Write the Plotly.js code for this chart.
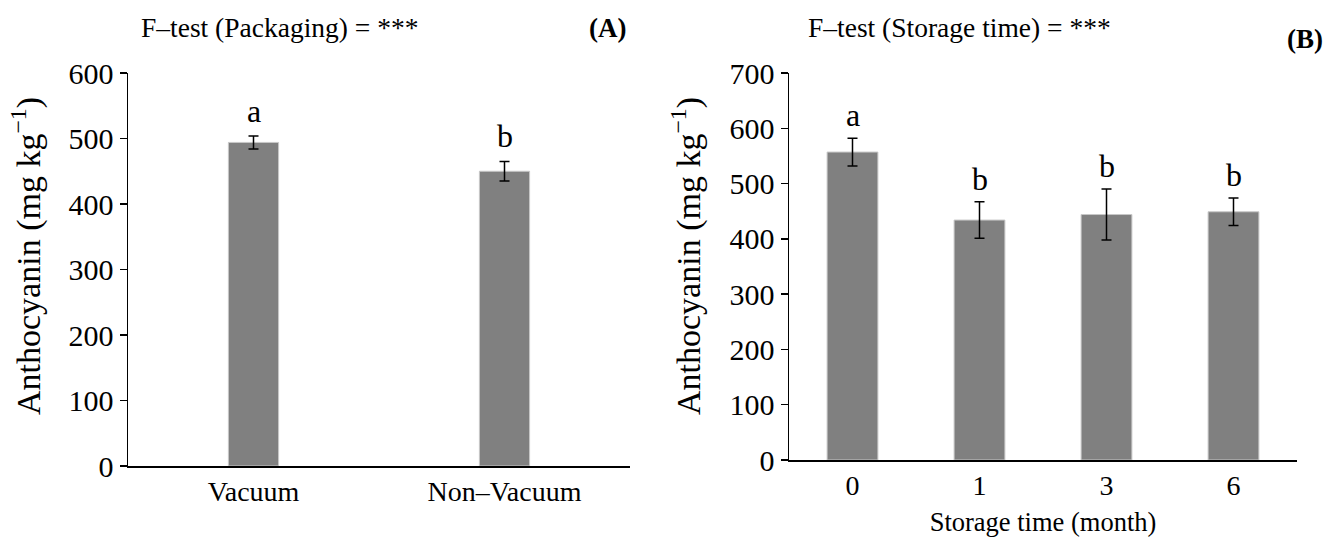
<!DOCTYPE html>
<html>
<head>
<meta charset="utf-8">
<script src="https://cdn.plot.ly/plotly-3.0.1.min.js"></script>
<style>html,body{margin:0;padding:0;background:#fff;}#chart{width:1326px;height:540px;}</style>
</head>
<body>
<div id="chart"></div>
<script>
// Panel A data
var categoriesA = ['Vacuum', 'Non–Vacuum'];
var valuesA = [494, 450];
var errorsA = [10, 15];
var lettersA = ['a', 'b'];
var yTicksA = [0, 100, 200, 300, 400, 500, 600];

// Panel B data
var categoriesB = ['0', '1', '3', '6'];
var valuesB = [557, 434, 444, 449];
var errorsB = [25, 33, 46, 25];
var lettersB = ['a', 'b', 'b', 'b'];
var yTicksB = [0, 100, 200, 300, 400, 500, 600, 700];

var yTitle = 'Anthocyanin (mg kg<sup>−1</sup>)';

var FONT = "'Liberation Serif', 'Times New Roman', serif";
var barColor = '#808080';

var traceA = {
  type: 'bar', x: [0, 1], y: valuesA, xaxis: 'x', yaxis: 'y',
  width: 0.2,
  marker: {color: barColor, line: {color: '#c8c8c8', width: 1}},
  error_y: {type: 'data', array: errorsA, visible: true, color: '#000', thickness: 1.5, width: 5},
  hoverinfo: 'none'
};
var traceB = {
  type: 'bar', x: [0, 1, 2, 3], y: valuesB, xaxis: 'x2', yaxis: 'y2',
  width: 0.4,
  marker: {color: barColor, line: {color: '#c8c8c8', width: 1}},
  error_y: {type: 'data', array: errorsB, visible: true, color: '#000', thickness: 1.5, width: 5},
  hoverinfo: 'none'
};

var annotations = [];
categoriesA.forEach(function(c, i) {
  annotations.push({x: i, y: valuesA[i] + errorsA[i], xref: 'x', yref: 'y', text: lettersA[i],
    showarrow: false, yanchor: 'bottom', yshift: 5, font: {family: FONT, size: 32, color: '#000'}});
});
categoriesB.forEach(function(c, i) {
  annotations.push({x: i, y: valuesB[i] + errorsB[i], xref: 'x2', yref: 'y2', text: lettersB[i],
    showarrow: false, yanchor: 'bottom', yshift: 3, font: {family: FONT, size: 32, color: '#000'}});
});
annotations.push({xref: 'paper', yref: 'paper', x: 139/1326, y: 1 - 27/540, xanchor: 'left', yanchor: 'middle',
  text: 'F–test (Packaging) = ***', showarrow: false, font: {family: FONT, size: 27.5, color: '#000'}});
annotations.push({xref: 'paper', yref: 'paper', x: 628/1326, y: 1 - 28/540, xanchor: 'right', yanchor: 'middle',
  text: '<b>(A)</b>', showarrow: false, font: {family: FONT, size: 27, color: '#000'}});
annotations.push({xref: 'paper', yref: 'paper', x: 806/1326, y: 1 - 27/540, xanchor: 'left', yanchor: 'middle',
  text: 'F–test (Storage time) = ***', showarrow: false, font: {family: FONT, size: 27.5, color: '#000'}});
annotations.push({xref: 'paper', yref: 'paper', x: 1325/1326, y: 1 - 39/540, xanchor: 'right', yanchor: 'middle',
  text: '<b>(B)</b>', showarrow: false, font: {family: FONT, size: 27, color: '#000'}});
annotations.push({xref: 'paper', yref: 'paper', x: 26/1326, y: 1 - 256/540, xanchor: 'center', yanchor: 'middle',
  textangle: -90, text: yTitle, showarrow: false, font: {family: FONT, size: 34, color: '#000'}});
annotations.push({xref: 'paper', yref: 'paper', x: 686/1326, y: 1 - 256/540, xanchor: 'center', yanchor: 'middle',
  textangle: -90, text: yTitle, showarrow: false, font: {family: FONT, size: 34, color: '#000'}});

var yaxisCommon = {
  showgrid: false, zeroline: false, showline: true, linecolor: '#000', linewidth: 1.5,
  ticks: 'outside', ticklen: 7, tickwidth: 1.5, tickcolor: '#000',
  tickfont: {family: FONT, size: 30, color: '#000'}, tickmode: 'array'
};
var xaxisCommon = {
  showgrid: false, zeroline: false, showline: true, linecolor: '#000', linewidth: 1.5,
  ticks: '', tickmode: 'array', tickfont: {family: FONT, size: 28, color: '#000'}
};

var layout = {
  width: 1326, height: 540, margin: {l: 0, r: 0, t: 0, b: 0},
  paper_bgcolor: '#fff', plot_bgcolor: '#fff', showlegend: false,
  font: {family: FONT, color: '#000'},
  xaxis: Object.assign({}, xaxisCommon, {domain: [128/1326, 630/1326], anchor: 'y', range: [-0.5, 1.5],
    tickvals: [0, 1], ticktext: categoriesA}),
  yaxis: Object.assign({}, yaxisCommon, {domain: [1 - 466/540, 1 - 73/540], anchor: 'x', range: [0, 600],
    tickvals: yTicksA, ticktext: yTicksA.map(String)}),
  xaxis2: Object.assign({}, xaxisCommon, {domain: [789/1326, 1297/1326], anchor: 'y2', range: [-0.5, 3.5],
    tickvals: [0, 1, 2, 3], ticktext: categoriesB,
    title: {text: 'Storage time (month)', font: {family: FONT, size: 26.5, color: '#000'}, standoff: 12}}),
  yaxis2: Object.assign({}, yaxisCommon, {domain: [1 - 460/540, 1 - 73/540], anchor: 'x2', range: [0, 700],
    tickvals: yTicksB, ticktext: yTicksB.map(String)}),
  annotations: annotations
};

Plotly.newPlot('chart', [traceA, traceB], layout, {displayModeBar: false, staticPlot: true});
</script>
</body>
</html>
